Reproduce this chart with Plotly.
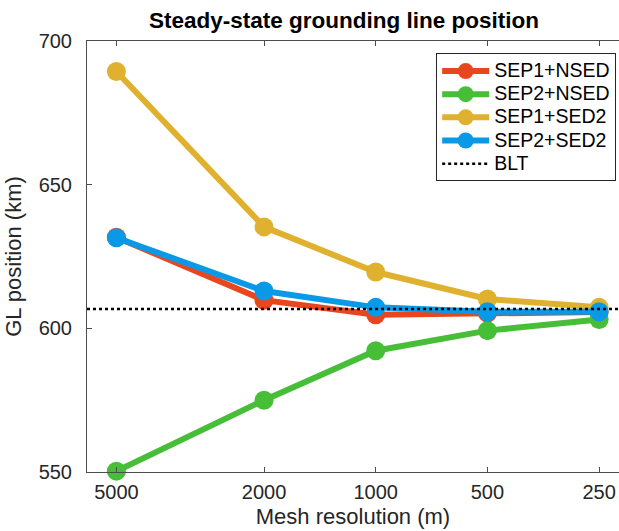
import numpy as np
import plotly.graph_objects as go

resolution = [5000, 2000, 1000, 500, 250]
tick_labels = ["5000", "2000", "1000", "500", "250"]
sep1_nsed = [631.7, 609.8, 604.7, 605.3, 605.7]
sep2_nsed = [550.3, 575.0, 592.2, 599.2, 603.1]
sep1_sed2 = [689.4, 635.3, 619.6, 610.2, 607.3]
sep2_sed2 = [631.5, 613.0, 607.3, 605.8, 605.8]
blt = 606.7
x_limits = [6000, 221]

series = [
    ("SEP1+NSED", sep1_nsed, "#E8461E"),
    ("SEP2+NSED", sep2_nsed, "#47BE38"),
    ("SEP1+SED2", sep1_sed2, "#E0B12E"),
    ("SEP2+SED2", sep2_sed2, "#0A99E6"),
]

def legend_name(s):
    return '<span style="font-size:19.5px">' + s + '</span>'

fig = go.Figure()
for name, vals, col in series:
    fig.add_trace(go.Scatter(
        x=resolution, y=vals, name=legend_name(name), mode="lines+markers",
        line=dict(color=col, width=6),
        marker=dict(color=col, size=19),
        cliponaxis=False,
    ))
fig.add_trace(go.Scatter(
    x=x_limits, y=[blt, blt], name=legend_name("BLT"), mode="lines",
    line=dict(color="black", width=2.5, dash="3px,3px"),
))

axis_col = "#4d4d4d"
plot_w = 619 - 86.5
plot_h = 472.5 - 40.5
fig.update_layout(
    width=619, height=531,
    margin=dict(l=86.5, r=0, t=40.5, b=58.5),
    paper_bgcolor="white", plot_bgcolor="white",
    font=dict(family="Liberation Sans, Arial, sans-serif", color="#262626"),
    title=dict(text="<b>Steady-state grounding line position</b>",
               font=dict(size=22.5, color="black"),
               xref="container", x=344/619, xanchor="center",
               yref="container", y=1-20/531, yanchor="middle"),
    showlegend=True,
    legend=dict(x=(436-86.5)/plot_w, y=1 - (53-40.5)/plot_h, xanchor="left", yanchor="top",
                bordercolor="#262626", borderwidth=1, bgcolor="white",
                font=dict(size=15.5, color="black"), tracegroupgap=0, itemwidth=47),
    xaxis=dict(type="log", range=[np.log10(x_limits[0]), np.log10(x_limits[1])],
               tickvals=resolution, ticktext=tick_labels,
               ticks="inside", ticklen=5, tickcolor=axis_col,
               showline=True, linecolor=axis_col, linewidth=1, mirror="ticks",
               showgrid=False, zeroline=False, ticklabelstandoff=2,
               tickfont=dict(size=20, color="#262626"),
               title=dict(text="Mesh resolution (m)", font=dict(size=22, color="#262626"), standoff=6)),
    yaxis=dict(range=[550, 700], tickvals=[550, 600, 650, 700],
               ticks="inside", ticklen=5, tickcolor=axis_col,
               showline=True, linecolor=axis_col, linewidth=1,
               showgrid=False, zeroline=False, ticklabelstandoff=10,
               tickfont=dict(size=20, color="#262626"),
               title=dict(text="GL position (km)", font=dict(size=22, color="#262626"), standoff=10)),
)

fig.write_html("out.html")
